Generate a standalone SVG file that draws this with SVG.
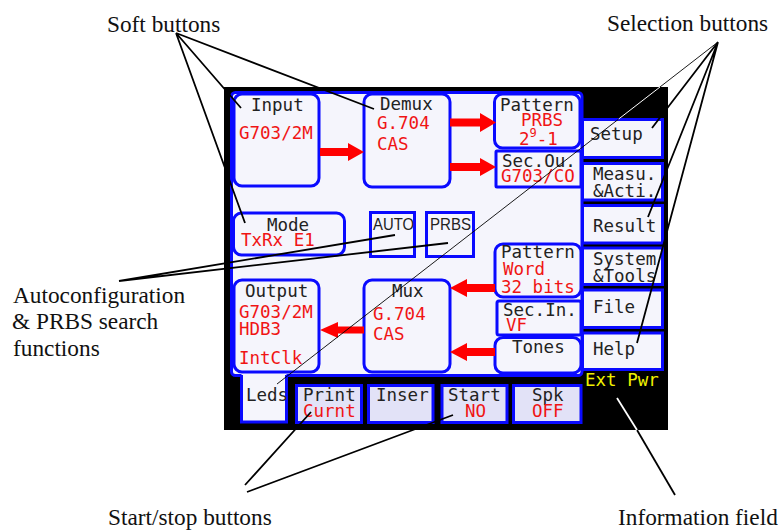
<svg xmlns="http://www.w3.org/2000/svg" width="783" height="530" viewBox="0 0 783 530">
<defs>
<style>
.lbl{font-family:"Liberation Serif","Times New Roman",serif;font-size:23.3px;fill:#111}
.t{font-family:"DejaVu Sans Mono",monospace;font-size:17.5px;fill:#222}
.s{font-family:"Liberation Sans",Arial,sans-serif;font-size:16.5px;fill:#222}
.r{fill:#f01414}
.y{fill:#f0f000}
.box{fill:#f5f5fc;stroke:#0a0aff;stroke-width:3}
.btn{fill:#e2e2f7;stroke:#0a0aff;stroke-width:3}
.arr{fill:#ff0000}
.ln{stroke:#000;fill:none;stroke-width:1.8}
.thin{stroke:#000;fill:none;stroke-width:0.9}
.wl{stroke:#fff;fill:none}
</style>
</defs>
<rect width="783" height="530" fill="#fff"/>
<g id="screen">
<rect x="224" y="87" width="444" height="343" fill="#000"/>
<rect id="panel" x="231.5" y="92.5" width="350.5" height="283" rx="4" class="box"/>
</g>
<g id="leds">
<rect x="241.5" y="372" width="45" height="50" fill="#f5f5fc"/>
<path d="M241.5,375 V422 H286.5 V375" fill="none" stroke="#0a0aff" stroke-width="3"/>
<text class="t" x="246" y="401">Leds</text>
</g>
<g id="input"><rect class="box" x="234" y="94" width="85" height="92" rx="8"/>
<text class="t" x="251" y="111">Input</text><text class="t r" x="239" y="139">G703/2M</text></g>
<g id="demux"><rect class="box" x="364" y="94" width="86" height="93" rx="8"/>
<text class="t" x="380" y="110">Demux</text><text class="t r" x="377" y="129">G.704</text><text class="t r" x="377" y="150">CAS</text></g>
<g id="pattern-tx"><rect class="box" x="494.5" y="94" width="85.5" height="54" rx="8"/>
<text class="t" x="500" y="111">Pattern</text><text class="t r" x="521" y="126">PRBS</text>
<text class="t r" x="519" y="145">2<tspan font-size="12" dy="-8">9</tspan><tspan dy="8">-1</tspan></text></g>
<g id="sec-out"><rect class="box" x="496" y="151" width="85" height="36" rx="1"/>
<text class="t" x="502" y="167">Sec.Ou.</text><text class="t r" x="501" y="182">G703/CO</text></g>
<g id="mode"><rect class="box" x="233.5" y="213" width="111" height="42" rx="8"/>
<text class="t" x="267" y="231">Mode</text><text class="t r" x="241" y="246">TxRx E1</text></g>
<g id="auto"><rect class="box" x="370.5" y="212.5" width="44" height="44"/>
<text class="s" x="373" y="229.5" textLength="41" lengthAdjust="spacingAndGlyphs">AUTO</text></g>
<g id="prbs"><rect class="box" x="426.5" y="212.5" width="47" height="44"/>
<text class="s" x="430" y="229.5" textLength="41" lengthAdjust="spacingAndGlyphs">PRBS</text></g>
<g id="pattern-rx"><rect class="box" x="495" y="244" width="86" height="53" rx="8"/>
<text class="t" x="501" y="258">Pattern</text><text class="t r" x="503" y="275">Word</text><text class="t r" x="501" y="293">32 bits</text></g>
<g id="sec-in"><rect class="box" x="497" y="301" width="84" height="34" rx="2"/>
<text class="t" x="503" y="316">Sec.In.</text><text class="t r" x="506" y="331">VF</text></g>
<g id="tones"><rect class="box" x="495" y="337.5" width="86" height="35.5" rx="8"/>
<text class="t" x="512" y="353">Tones</text></g>
<g id="output"><rect class="box" x="234" y="280" width="85" height="92" rx="8"/>
<text class="t" x="245" y="297">Output</text><text class="t r" x="239" y="318">G703/2M</text><text class="t r" x="239" y="335">HDB3</text><text class="t r" x="239" y="364">IntClk</text></g>
<g id="mux"><rect class="box" x="364" y="280" width="86" height="92" rx="8"/>
<text class="t" x="392" y="297">Mux</text><text class="t r" x="373" y="320">G.704</text><text class="t r" x="373" y="340">CAS</text></g>
<g id="setup"><rect class="box" x="582.5" y="119.5" width="80" height="38"/><text class="t" x="590" y="140">Setup</text></g>
<g id="measu"><rect class="box" x="582.5" y="163.5" width="80" height="36.5"/><text class="t" x="593" y="180">Measu.</text><text class="t" x="593" y="197">&amp;Acti.</text></g>
<g id="result"><rect class="box" x="582.5" y="205.5" width="80" height="37.5"/><text class="t" x="593" y="232">Result</text></g>
<g id="system"><rect class="box" x="582.5" y="248" width="80" height="36.5"/><text class="t" x="593" y="265">System</text><text class="t" x="593" y="282">&amp;Tools</text></g>
<g id="file"><rect class="box" x="582.5" y="290" width="80" height="37.5"/><text class="t" x="593" y="313">File</text></g>
<g id="help"><rect class="box" x="582.5" y="333" width="80" height="36.5"/><text class="t" x="593" y="355">Help</text></g>
<g id="print"><rect class="btn" x="296.5" y="385.5" width="65" height="37"/><text class="t" x="303" y="401">Print</text><text class="t r" x="303" y="417">Curnt</text></g>
<g id="inser"><rect class="btn" x="368.5" y="385.5" width="64.5" height="37"/><text class="t" x="376" y="401">Inser</text></g>
<g id="start"><rect class="btn" x="442" y="385.5" width="65" height="37"/><text class="t" x="448" y="401">Start</text><text class="t r" x="465" y="417">NO</text></g>
<g id="spk"><rect class="btn" x="513.5" y="385.5" width="67.5" height="37"/><text class="t" x="532" y="401">Spk</text><text class="t r" x="532" y="417">OFF</text></g>
<g id="ext-pwr"><text class="t y" x="585" y="386">Ext Pwr</text></g>
<g id="connectors">
<polygon class="arr" points="320,148 348,148 348,143 364,152 348,161 348,156 320,156"/>
<polygon class="arr" points="450,118.5 480,118.5 480,113 496,122.5 480,132 480,126.5 450,126.5"/>
<polygon class="arr" points="450,163 480,163 480,158 496,167 480,176 480,171 450,171"/>
<polygon class="arr" points="495,284 467,284 467,279 450,288 467,297 467,292 495,292"/>
<polygon class="arr" points="495,348 467,348 467,343 450,352 467,361 467,356 495,356"/>
<polygon class="arr" points="364,326.5 338,326.5 338,322 320,330 338,338 338,333.5 364,333.5"/>
<path class="ln" d="M176,33 L241,108 M176,33 L374,109 M176,33 L245,223"/>
<path class="ln" d="M718,42 L652,128 M718,42 L648,217 M718,42 L637,343"/>
<path class="thin" d="M718,42 L277,384"/>
<path class="wl" stroke-width="1" d="M660,87 L618.7,119"/>
<path class="ln" d="M119,281 L395,235 M119,281 L448,243"/>
<path class="ln" d="M245,485 L311,412 M247,492 L453,415"/>
<path class="ln" d="M675,495 L637,430"/>
<path class="wl" stroke-width="1.8" d="M637,430 L617,398"/>
</g>
<g id="labels">
<text class="lbl" x="107" y="32">Soft buttons</text>
<text class="lbl" x="607" y="31">Selection buttons</text>
<text class="lbl" x="13" y="303">Autoconfiguration</text>
<text class="lbl" x="12" y="329">&amp; PRBS search</text>
<text class="lbl" x="13" y="356">functions</text>
<text class="lbl" x="108" y="525">Start/stop buttons</text>
<text class="lbl" x="618" y="525">Information field</text>
</g>
</svg>
